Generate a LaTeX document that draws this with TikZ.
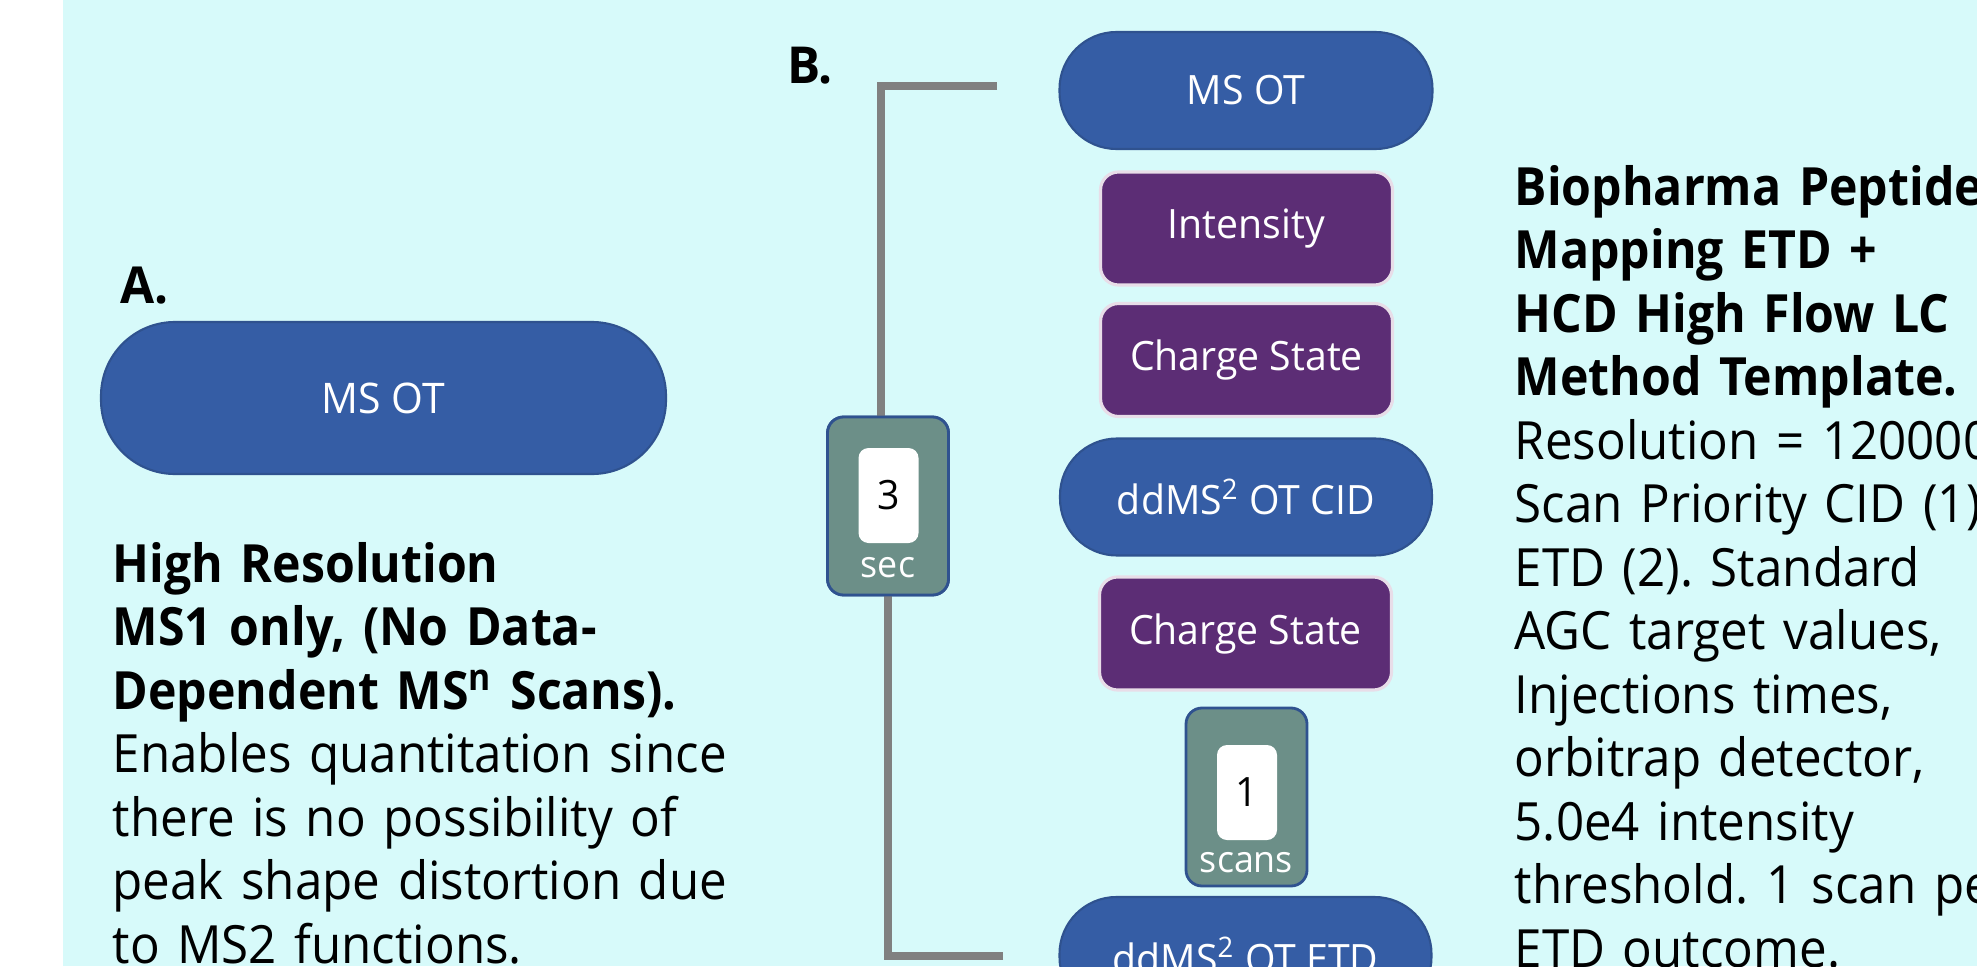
\documentclass[tikz,border=0pt]{standalone}
\usepackage{fontspec}
\setmainfont{Open Sans}[FakeStretch=0.97]
\newfontfamily\noteregular{Open Sans}[FakeStretch=0.935]
\newfontfamily\notebold{Open Sans}[FakeStretch=0.915]
\newcommand{\notehead}[1]{{\notebold\bfseries #1}}
\usetikzlibrary{positioning}
\frenchspacing

\begin{document}
\begin{tikzpicture}[
    mscan/.style={rectangle, rounded corners=#1, fill=ms_blue, draw=ms_edge, line width=0.6pt,
        text=white, inner sep=0pt},
    filterbox/.style={rectangle, rounded corners=0.18cm, fill=filt_purple, draw=filt_edge, line width=0.9pt,
        text=white, minimum width=2.92cm, minimum height=1.13cm, inner sep=0pt,
        font=\fontsize{11.5}{13}\selectfont},
    loopbox/.style={rectangle, rounded corners=0.16cm, fill=loop_teal, draw=ms_edge, line width=0.8pt,
        minimum width=1.21cm, minimum height=1.78cm, inner sep=0pt},
    loopval/.style={rectangle, rounded corners=0.1cm, fill=white, minimum width=0.60cm, minimum height=0.95cm,
        inner sep=0pt, font=\fontsize{11.5}{13}\selectfont},
    loopunit/.style={text=white, inner sep=0pt, font=\fontsize{10.5}{12}\selectfont},
    panel/.style={anchor=base west, inner sep=0pt, font=\fontsize{14.5}{17}\bfseries},
    note/.style={anchor=base west, inner sep=0pt, align=left, text width=8cm,
        font=\noteregular\fontsize{15}{18.07}\selectfont},
    bracket/.style={draw=bracket_gray, line width=0.08cm}
]
    \definecolor{ms_blue}{HTML}{355DA5}
    \definecolor{ms_edge}{HTML}{2F528F}
    \definecolor{filt_purple}{HTML}{5C2D75}
    \definecolor{filt_edge}{HTML}{E8DDE8}
    \definecolor{loop_teal}{HTML}{6C8F88}
    \definecolor{bg_cyan}{HTML}{D7FAFA}
    \definecolor{bracket_gray}{HTML}{808080}
    %\draw[help lines] (0,0) grid (20,10);
    \useasboundingbox (0,0) rectangle (19.77,9.66);
    \clip (0,0) rectangle (19.77,9.66);
    \path[fill=white] (0,0) rectangle (19.77,9.66);
    \path[fill=bg_cyan] (0.63,0) rectangle (19.77,9.66);

    % A.
    \node[panel] (labelA) at (1.20,6.63) {A.};
    \node[mscan=0.74cm, minimum width=5.65cm, minimum height=1.52cm, font=\fontsize{12}{14}\selectfont]
        (msA) at (3.835,5.68) {MS OT};
    \node[note] (textA) at (1.12,3.84) {
        \notehead{High Resolution}\\
        \notehead{MS1 only, (No Data-}\\
        \notehead{Dependent MS\textsuperscript{n} Scans).}\\
        Enables quantitation since\\
        there is no possibility of\\
        peak shape distortion due\\
        to MS2 functions.
    };

    % B.
    \node[panel] (labelB) at (7.87,8.83) {B.};
    \coordinate (brtop) at (9.97,8.805);
    \coordinate (brbot) at (10.03,0.105);

    \node[loopbox] (secloop) at (8.88,4.60) {};
    \draw[bracket] (brtop) -| ([xshift=-0.07cm]secloop.north);
    \draw[bracket] (brbot) -| (secloop.south);
    \node[loopbox] at (secloop) {};
    \node[loopval] (secval) at (8.885,4.705) {3};
    \node[loopunit] (secunit) at (8.88,3.98) {sec};

    \node[mscan=0.57cm, minimum width=3.73cm, minimum height=1.17cm, font=\fontsize{11.5}{13}\selectfont]
        (msB) at (12.46,8.755) {MS OT};
    \node[filterbox] (intensity) at (12.465,7.375) {Intensity};
    \node[filterbox] (charge1) at (12.465,6.06) {Charge State};
    \node[mscan=0.57cm, minimum width=3.72cm, minimum height=1.17cm, font=\fontsize{11.5}{13}\selectfont]
        (cid) at (12.46,4.69) {ddMS\textsuperscript{2} OT CID};
    \node[filterbox] (charge2) at (12.455,3.325) {Charge State};
    \node[loopbox] (scanloop) at (12.465,1.69) {};
    \node[loopval] (scanval) at (12.47,1.735) {1};
    \node[loopunit] (scanunit) at (12.465,1.03) {scans};
    \node[mscan=0.57cm, minimum width=3.72cm, minimum height=1.17cm, font=\fontsize{11.5}{13}\selectfont]
        (etd) at (12.455,0.105) {ddMS\textsuperscript{2} OT ETD};

    \node[note] (textB) at (15.14,7.61) {
        \notehead{Biopharma Peptide}\\
        \notehead{Mapping ETD +}\\
        \notehead{HCD High Flow LC}\\
        \notehead{Method Template.}\\
        Resolution = 120000\\
        Scan Priority CID (1)\\
        ETD (2). Standard\\
        AGC target values,\\
        Injections times,\\
        orbitrap detector,\\
        5.0e4 intensity\\
        threshold. 1 scan per\\
        ETD outcome.
    };
\end{tikzpicture}
\end{document}
